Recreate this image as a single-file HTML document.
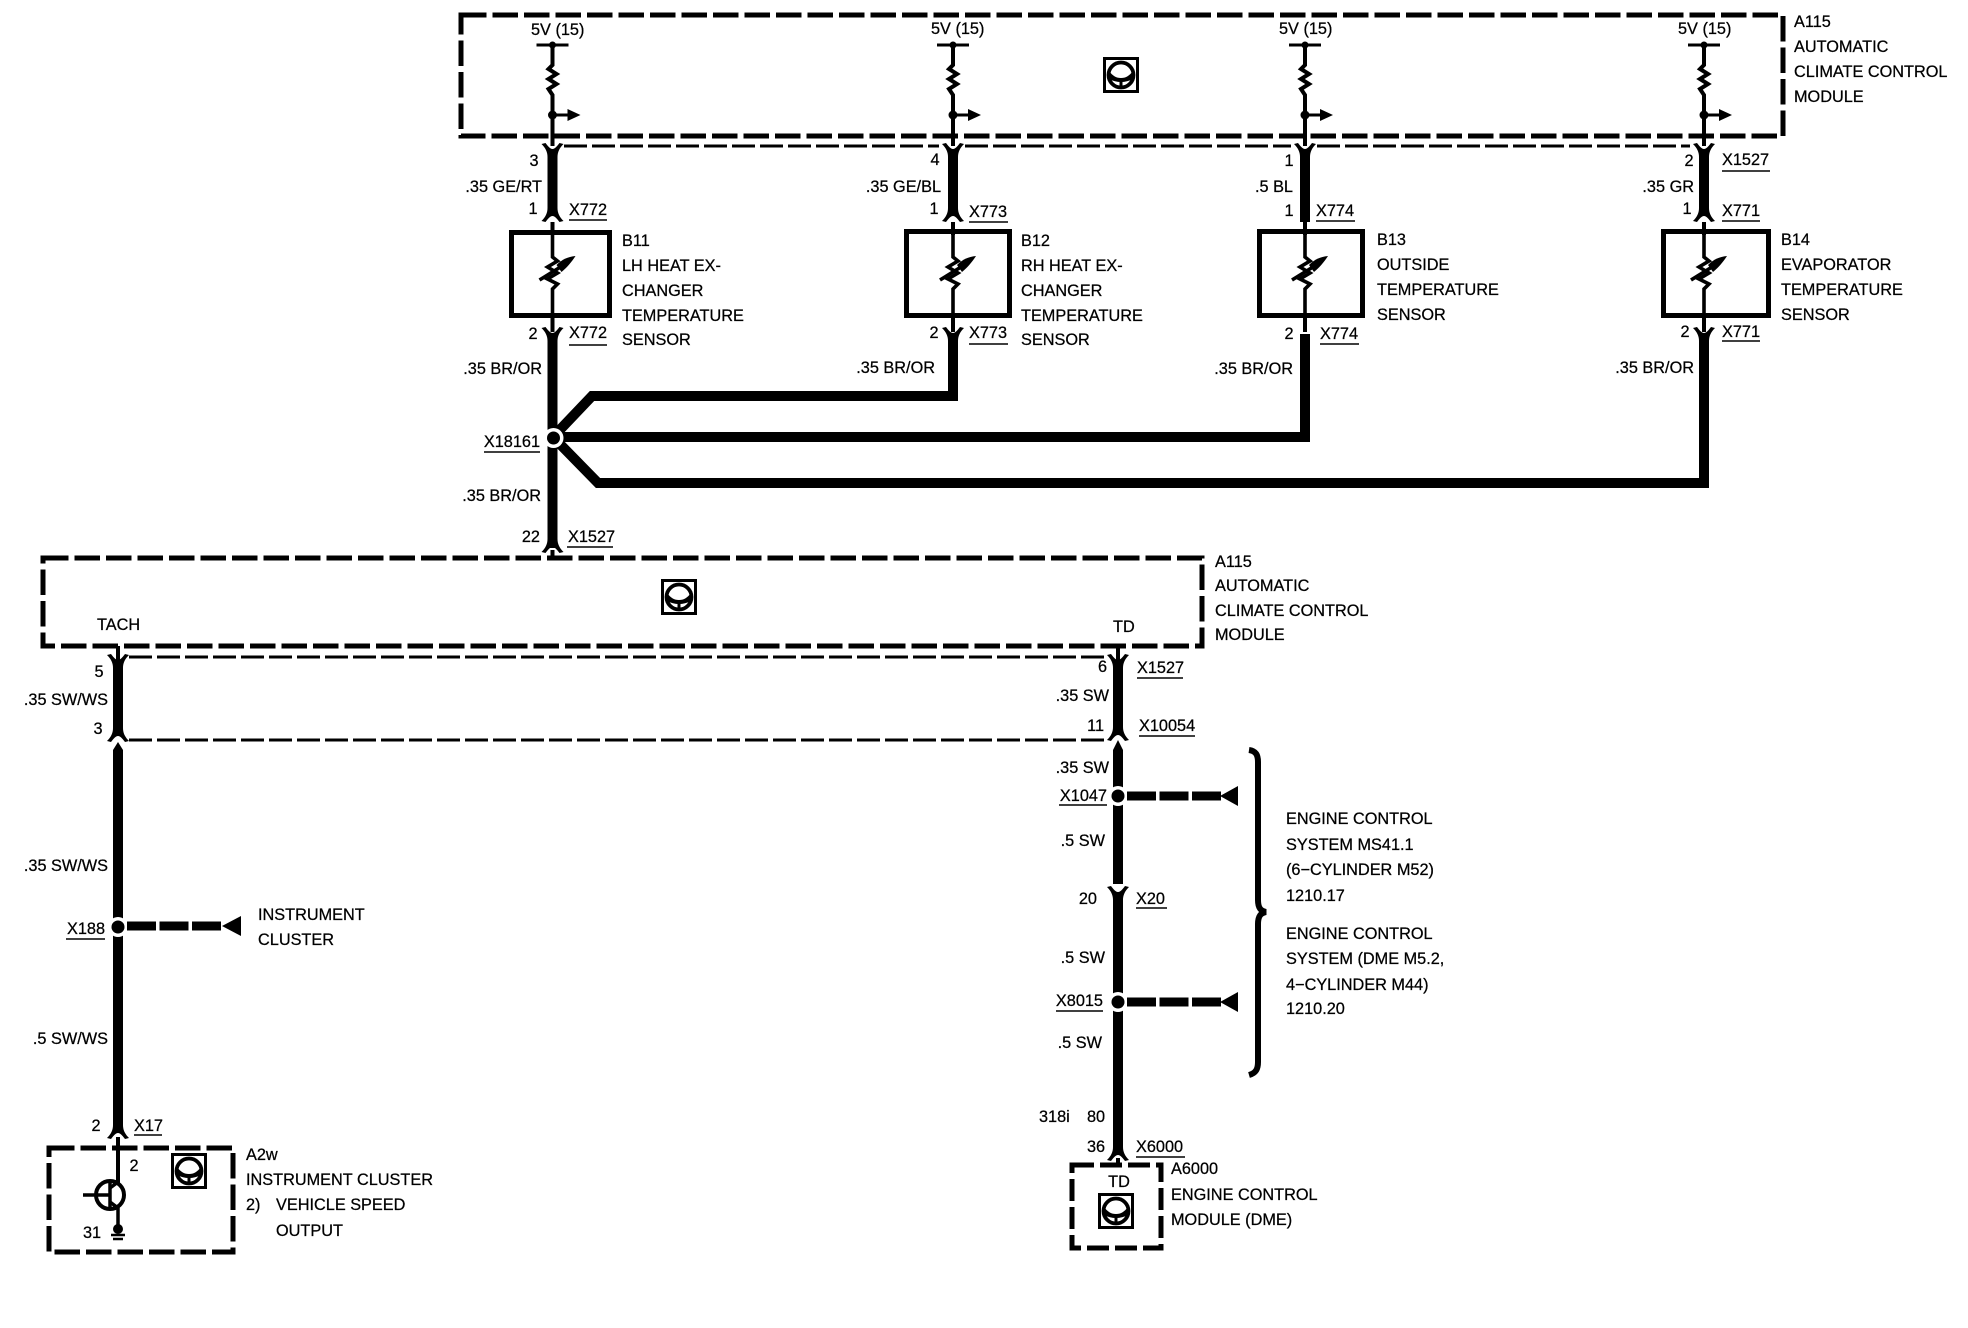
<!DOCTYPE html>
<html>
<head>
<meta charset="utf-8">
<title>Wiring diagram</title>
<style>
html,body{margin:0;padding:0;background:#fff}
svg{display:block}
text{font-family:"Liberation Sans",sans-serif;font-size:16.3px;fill:#000;stroke:#000;stroke-width:.25}
.box{fill:none;stroke:#000;stroke-width:5;stroke-dasharray:25.5 6}
.thin{stroke:#000;stroke-width:4;fill:none}
.thick{stroke:#000;stroke-width:10;fill:none}
.dash{stroke:#000;stroke-width:3;stroke-dasharray:23 5;fill:none}
.sens{fill:none;stroke:#000;stroke-width:5}
.ul{stroke:#000;stroke-width:1.6}
.stub{stroke:#000;stroke-width:9;stroke-dasharray:29 3.5;fill:none}
.e{text-anchor:end}
.m{text-anchor:middle}
</style>
</head>
<body>
<svg width="1968" height="1328" viewBox="0 0 1968 1328" xmlns="http://www.w3.org/2000/svg">
<defs>
<g id="yf"><path d="M-11,-3 C-7,1 -5,5 -5,10 L5,10 C5,5 7,1 11,-3 L7,-4 C4,0 2,2 0,2 C-2,2 -4,0 -7,-4 Z" fill="#000"/></g>
<g id="nf"><path d="M-11,3 C-7,-1 -5,-5 -5,-10 L5,-10 C5,-5 7,-1 11,3 L7,4 C4,0 2,-2 0,-2 C-2,-2 -4,0 -7,4 Z" fill="#000"/></g>
<g id="top">
<path d="M-16,45 H16" stroke="#000" stroke-width="3"/>
<circle cx="0" cy="45" r="3.5"/>
<path d="M0,45 V65 L-4,69 L4,74 L-4,79 L4,84 L-4,89 L0,95 V146" class="thin"/>
<circle cx="0" cy="115" r="4.5"/>
<path d="M0,115 H18" stroke="#000" stroke-width="3"/>
<path d="M15,109 L28,115 L15,121 Z"/>
</g>
<g id="therm">
<path d="M0,0 V27 L5,31 L-5,37 L5,43 L-5,49 L5,54 L0,59 V88" stroke="#000" stroke-width="3.6" fill="none"/>
<path d="M-13,50 L8,37" stroke="#000" stroke-width="3.6"/>
<path d="M4,35 C10,29 15,27 23,26 C19,32 15,37 9,42 Z"/>
</g>
<g id="icon">
<rect x="1.5" y="1.5" width="33" height="33" fill="#fff" stroke="#000" stroke-width="3"/>
<circle cx="18" cy="18" r="12.5" fill="none" stroke="#000" stroke-width="3.8"/>
<path d="M6,14 C10,19 13,21 18,21 C23,21 26,19 30,14 L30,22 C26,24 22,25 18,25 C14,25 10,24 6,22 Z"/>
<path d="M18,22 V31" stroke="#000" stroke-width="3"/>
</g>
</defs>

<!-- Top module -->
<rect class="box" x="461" y="15" width="1322" height="121"/>
<use href="#top" x="552.5"/>
<use href="#top" x="953"/>
<use href="#top" x="1305"/>
<use href="#top" x="1704"/>
<use href="#icon" x="1103" y="57"/>

<path class="dash" d="M564,146 H939"/>
<path class="dash" d="M965,146 H1291"/>
<path class="dash" d="M1317,146 H1690"/>

<!-- Upper wires -->
<g class="thick">
<path d="M552.5,150 V216"/><path d="M953,150 V216"/><path d="M1305,150 V222"/><path d="M1704,150 V216"/>
</g>
<use href="#yf" x="552.5" y="147"/><use href="#yf" x="953" y="147"/><use href="#yf" x="1305" y="147"/><use href="#yf" x="1704" y="147"/>
<use href="#nf" x="552.5" y="218"/><use href="#nf" x="953" y="218"/><use href="#nf" x="1704" y="218"/>

<!-- Sensors -->
<rect class="sens" x="511.5" y="232.5" width="98" height="83"/>
<rect class="sens" x="906.5" y="231.5" width="103" height="84"/>
<rect class="sens" x="1259.5" y="231.5" width="103" height="84"/>
<rect class="sens" x="1663.5" y="231.5" width="105" height="84"/>
<use href="#therm" x="552.5" y="230"/>
<use href="#therm" x="953" y="230"/>
<use href="#therm" x="1305" y="230"/>
<use href="#therm" x="1704" y="230"/>
<path class="thin" d="M552.5,222 V235 M953,222 V235 M1305,222 V235 M1704,222 V235 M552.5,315 V332 M953,315 V332 M1305,315 V332 M1704,315 V332"/>

<!-- Lower wires & bus -->
<path class="thick" d="M552.5,334 V548"/>
<path class="thick" d="M553,437 L592,396 H953 V334"/>
<path class="thick" d="M553,437 H1305 V334"/>
<path class="thick" d="M553,437 L598,483 H1704 V334"/>
<use href="#yf" x="552.5" y="331"/><use href="#yf" x="953" y="331"/><use href="#yf" x="1704" y="331"/>
<circle cx="553.5" cy="438" r="10" fill="#fff"/>
<circle cx="553.5" cy="438" r="6.5"/>
<use href="#nf" x="552.5" y="549"/>
<path class="thin" d="M552.5,550 V560"/>

<!-- Middle module -->
<rect class="box" x="43" y="558" width="1159" height="88"/>
<use href="#icon" x="661" y="579"/>
<path class="dash" d="M129,657 H1107"/>
<path class="dash" d="M129,740 H1107"/>
<path class="thin" d="M118,646 V662 M1118,646 V662"/>
<path class="thick" d="M118,660 V734 M1118,660 V734"/>
<use href="#yf" x="118" y="658"/><use href="#yf" x="1118" y="658"/>
<use href="#nf" x="118" y="738"/><use href="#nf" x="1118" y="737"/>

<!-- Left lower wire -->
<path d="M118,742 L123,750 V1126 H113 V750 Z"/>
<circle cx="118" cy="927" r="10" fill="#fff"/>
<circle cx="118" cy="927" r="6.5"/>
<path class="stub" d="M127,926 H224"/>
<path d="M222,926 L241,916 V936 Z"/>
<use href="#nf" x="118" y="1135"/>

<!-- Instrument cluster -->
<rect class="box" x="49" y="1148" width="184" height="104"/>
<path class="thin" d="M118,1137 V1183"/>
<circle cx="110" cy="1195" r="14" fill="none" stroke="#000" stroke-width="4"/>
<path d="M83,1195 H110 M110,1183 V1207" stroke="#000" stroke-width="3.5"/>
<path d="M110,1188 L118,1182 M110,1202 L118,1208 V1228" stroke="#000" stroke-width="3.5" fill="none"/>
<circle cx="118" cy="1229" r="5"/>
<path d="M111,1235 H125 M113,1239 H123" stroke="#000" stroke-width="2.6"/>
<use href="#icon" x="171" y="1153"/>

<!-- Right lower wire -->
<path d="M1118,740 L1123,750 V884 H1113 V750 Z"/>
<circle cx="1118" cy="796" r="10" fill="#fff"/>
<circle cx="1118" cy="796" r="6.5"/>
<path class="stub" d="M1127,796 H1224"/>
<path d="M1220,796 L1238,786 V806 Z"/>
<use href="#yf" x="1118" y="890"/>
<path class="thick" d="M1118,895 V1150"/>
<circle cx="1118" cy="1002" r="10" fill="#fff"/>
<circle cx="1118" cy="1002" r="6.5"/>
<path class="stub" d="M1127,1002 H1224"/>
<path d="M1220,1002 L1238,992 V1012 Z"/>
<use href="#nf" x="1118" y="1157"/>
<path class="thin" d="M1118,1158 V1166"/>

<!-- Brace -->
<path d="M1249,750 C1256,751 1258,755 1258,762 V900 C1258,907 1260,911 1266,912 C1260,913 1258,917 1258,924 V1062 C1258,1069 1256,1073 1249,1075" fill="none" stroke="#000" stroke-width="6"/>

<!-- Engine control module -->
<rect class="box" x="1072" y="1165" width="89" height="83" style="stroke-dasharray:22 6"/>
<use href="#icon" x="1098" y="1193"/>

<!-- Underlines -->
<g class="ul">
<path d="M569,220 H607 M569,345 H607"/>
<path d="M969,222 H1008 M969,344 H1008"/>
<path d="M1316,221 H1355 M1320,344 H1359"/>
<path d="M1722,171 H1770 M1722,221 H1760 M1722,341 H1760"/>
<path d="M484,452 H540 M567,547 H613"/>
<path d="M1137,678 H1183 M1139,736 H1195 M1059,805 H1107 M1136,908 H1167 M1056,1011 H1103 M1136,1157 H1185"/>
<path d="M66,939 H105 M134,1135 H162"/>
</g>

<!-- Top labels -->
<text x="531" y="35">5V (15)</text>
<text x="931" y="34">5V (15)</text>
<text x="1279" y="34">5V (15)</text>
<text x="1678" y="34">5V (15)</text>
<text x="1794" y="27">A115</text>
<text x="1794" y="52">AUTOMATIC</text>
<text x="1794" y="77">CLIMATE CONTROL</text>
<text x="1794" y="102">MODULE</text>

<!-- Wire 1 -->
<text x="534" y="166" class="m">3</text>
<text x="542" y="192" class="e">.35 GE/RT</text>
<text x="533" y="214" class="m">1</text>
<text x="569" y="215">X772</text>
<text x="533" y="339" class="m">2</text>
<text x="569" y="338">X772</text>
<text x="542" y="374" class="e">.35 BR/OR</text>
<text x="622" y="246">B11</text>
<text x="622" y="271">LH HEAT EX-</text>
<text x="622" y="296">CHANGER</text>
<text x="622" y="321">TEMPERATURE</text>
<text x="622" y="345">SENSOR</text>

<!-- Wire 2 -->
<text x="935" y="165" class="m">4</text>
<text x="941" y="192" class="e">.35 GE/BL</text>
<text x="934" y="214" class="m">1</text>
<text x="969" y="217">X773</text>
<text x="934" y="338" class="m">2</text>
<text x="969" y="338">X773</text>
<text x="935" y="373" class="e">.35 BR/OR</text>
<text x="1021" y="246">B12</text>
<text x="1021" y="271">RH HEAT EX-</text>
<text x="1021" y="296">CHANGER</text>
<text x="1021" y="321">TEMPERATURE</text>
<text x="1021" y="345">SENSOR</text>

<!-- Wire 3 -->
<text x="1289" y="166" class="m">1</text>
<text x="1293" y="192" class="e">.5 BL</text>
<text x="1289" y="216" class="m">1</text>
<text x="1316" y="216">X774</text>
<text x="1289" y="339" class="m">2</text>
<text x="1320" y="339">X774</text>
<text x="1293" y="374" class="e">.35 BR/OR</text>
<text x="1377" y="245">B13</text>
<text x="1377" y="270">OUTSIDE</text>
<text x="1377" y="295">TEMPERATURE</text>
<text x="1377" y="320">SENSOR</text>

<!-- Wire 4 -->
<text x="1689" y="166" class="m">2</text>
<text x="1722" y="165">X1527</text>
<text x="1694" y="192" class="e">.35 GR</text>
<text x="1687" y="214" class="m">1</text>
<text x="1722" y="216">X771</text>
<text x="1685" y="337" class="m">2</text>
<text x="1722" y="337">X771</text>
<text x="1694" y="373" class="e">.35 BR/OR</text>
<text x="1781" y="245">B14</text>
<text x="1781" y="270">EVAPORATOR</text>
<text x="1781" y="295">TEMPERATURE</text>
<text x="1781" y="320">SENSOR</text>

<!-- Junction -->
<text x="540" y="447" class="e">X18161</text>
<text x="541" y="501" class="e">.35 BR/OR</text>
<text x="540" y="542" class="e">22</text>
<text x="568" y="542">X1527</text>

<!-- Middle labels -->
<text x="1215" y="567">A115</text>
<text x="1215" y="591">AUTOMATIC</text>
<text x="1215" y="616">CLIMATE CONTROL</text>
<text x="1215" y="640">MODULE</text>
<text x="97" y="630">TACH</text>
<text x="1113" y="632">TD</text>
<text x="99" y="677" class="m">5</text>
<text x="108" y="705" class="e">.35 SW/WS</text>
<text x="98" y="734" class="m">3</text>
<text x="108" y="871" class="e">.35 SW/WS</text>
<text x="105" y="934" class="e">X188</text>
<text x="258" y="920">INSTRUMENT</text>
<text x="258" y="945">CLUSTER</text>
<text x="108" y="1044" class="e">.5 SW/WS</text>
<text x="96" y="1131" class="m">2</text>
<text x="134" y="1131">X17</text>

<!-- Right labels -->
<text x="1107" y="672" class="e">6</text>
<text x="1137" y="673">X1527</text>
<text x="1109" y="701" class="e">.35 SW</text>
<text x="1104" y="731" class="e">11</text>
<text x="1139" y="731">X10054</text>
<text x="1109" y="773" class="e">.35 SW</text>
<text x="1107" y="801" class="e">X1047</text>
<text x="1105" y="846" class="e">.5 SW</text>
<text x="1097" y="904" class="e">20</text>
<text x="1136" y="904">X20</text>
<text x="1105" y="963" class="e">.5 SW</text>
<text x="1103" y="1006" class="e">X8015</text>
<text x="1102" y="1048" class="e">.5 SW</text>
<text x="1039" y="1122">318i</text>
<text x="1087" y="1122">80</text>
<text x="1087" y="1152">36</text>
<text x="1136" y="1152">X6000</text>

<text x="1286" y="824">ENGINE CONTROL</text>
<text x="1286" y="850">SYSTEM MS41.1</text>
<text x="1286" y="875">(6−CYLINDER M52)</text>
<text x="1286" y="901">1210.17</text>
<text x="1286" y="939">ENGINE CONTROL</text>
<text x="1286" y="964">SYSTEM (DME M5.2,</text>
<text x="1286" y="990">4−CYLINDER M44)</text>
<text x="1286" y="1014">1210.20</text>

<!-- Bottom labels -->
<text x="134" y="1171" class="m">2</text>
<text x="83" y="1238">31</text>
<text x="246" y="1160">A2w</text>
<text x="246" y="1185">INSTRUMENT CLUSTER</text>
<text x="246" y="1210">2)</text>
<text x="276" y="1210">VEHICLE SPEED</text>
<text x="276" y="1236">OUTPUT</text>
<text x="1119" y="1187" class="m">TD</text>
<text x="1171" y="1174">A6000</text>
<text x="1171" y="1200">ENGINE CONTROL</text>
<text x="1171" y="1225">MODULE (DME)</text>
</svg>
</body>
</html>
